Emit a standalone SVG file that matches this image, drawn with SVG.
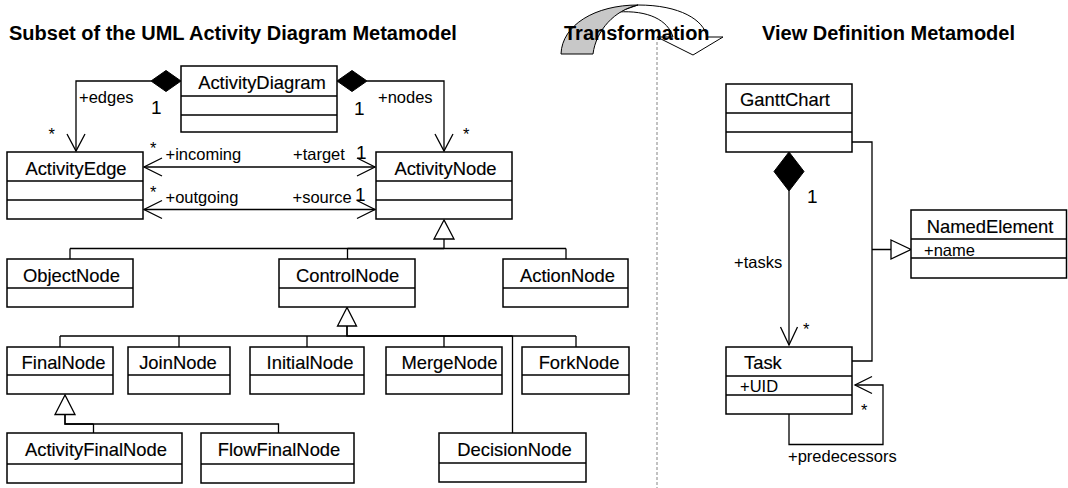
<svg xmlns="http://www.w3.org/2000/svg" width="1068" height="488" viewBox="0 0 1068 488">
  <style>
    .box { fill: #fff; stroke: #000; stroke-width: 1.5; }
    .div { stroke: #000; stroke-width: 1.5; }
    .name { font-family: "Liberation Sans", Arial, sans-serif; font-size: 18.4px; fill: #000; stroke: #000; stroke-width: 0.15; text-anchor: middle; }
    .name.left { text-anchor: start; }
    .attr { font-family: "Liberation Sans", Arial, sans-serif; font-size: 16.5px; fill: #000; }
    .lbl { font-family: "Liberation Sans", Arial, sans-serif; font-size: 16.5px; fill: #000; }
    .mult { font-family: "Liberation Sans", Arial, sans-serif; font-size: 19px; fill: #000; }
    .title { font-family: "Liberation Sans", Arial, sans-serif; font-size: 20px; font-weight: bold; fill: #000; }
    .ln { fill: none; stroke: #000; stroke-width: 1.3; }
    .open { fill: none; stroke: #000; stroke-width: 1.3; }
    .tri { fill: #fff; stroke: #000; stroke-width: 1.3; }
    .dia { fill: #000; stroke: #000; stroke-width: 1; }
  </style>

  <!-- separator between the two metamodels -->
  <path d="M657,37 V488" fill="none" stroke="#9a9a9a" stroke-width="1.2" stroke-dasharray="3,2"/>

  <!-- transformation arrow -->
  <g id="transformation-arrow">
    <path d="M638,5 C680,5 704,20 707,37 L723,37 L693,55 L657,37 L673,37 C668,20 648,10 618,12 Z" fill="#fff" stroke="#000" stroke-width="1"/>
    <path d="M561,54 C562,25 595,5 638,5 C615,10 596,30 593,54 Z" fill="#c8c8c8" stroke="#000" stroke-width="1"/>
  </g>

  <!-- headings -->
  <text class="title" x="9" y="40">Subset of the UML Activity Diagram Metamodel</text>
  <text class="title" x="564" y="40">Transformation</text>
  <text class="title" x="762" y="40">View Definition Metamodel</text>

  <!-- connectors -->
  <g id="connectors">
    <!-- ActivityDiagram compositions -->
    <polygon class="dia" points="151,81 166,70.5 181,81 166,91.5"/>
    <path class="ln" d="M151,81 H76 V151"/>
    <polyline class="open" points="67,134 76,151 85,134"/>
    <polygon class="dia" points="337,81 352,70.5 367,81 352,91.5"/>
    <path class="ln" d="M367,81 H444 V151"/>
    <polyline class="open" points="435,134 444,151 453,134"/>

    <!-- edge/node associations -->
    <path class="ln" d="M144,167 H375"/>
    <polyline class="open" points="162,158 144,167 162,176"/>
    <polyline class="open" points="357,158 375,167 357,176"/>
    <path class="ln" d="M144,209.5 H375"/>
    <polyline class="open" points="162,200.5 144,209.5 162,218.5"/>
    <polyline class="open" points="357,200.5 375,209.5 357,218.5"/>

    <!-- ActivityNode specializations -->
    <path class="ln" d="M444,239 V248.5 M70,248.5 H566 M70,248.5 V259 M347.5,248.5 V259 M566,248.5 V259"/>
    <path class="ln" d="M347.5,248.5 H444" stroke-width="2"/>
    <polygon class="tri" points="444,220 434,239 454,239"/>

    <!-- ControlNode specializations -->
    <path class="ln" d="M347,326 V336 M60,336 H576 M60,336 V347 M179,336 V347 M307,336 V347 M444,336 V347 M576,336 V347 M512.5,336 V433"/>
    <path class="ln" d="M347,326 V336 H512.5" stroke-width="2"/>
    <polygon class="tri" points="347,307.5 337.5,326 356.5,326"/>

    <!-- FinalNode specializations -->
    <path class="ln" d="M65,414.5 V424 H278.5 V433 M93.5,424 V433"/>
    <path class="ln" d="M65,414.5 V424 H93.5" stroke-width="2"/>
    <polygon class="tri" points="65,395 55,414.5 75,414.5"/>

    <!-- GanttChart tasks -->
    <polygon class="dia" points="789,152 804,171.5 789,191 774,171.5"/>
    <path class="ln" d="M789,191 V345"/>
    <polyline class="open" points="780.5,327 789,345 797.5,327"/>

    <!-- NamedElement specializations -->
    <path class="ln" d="M852,142 H872 V361 H852 M872,249.5 H891"/>
    <polygon class="tri" points="891,240 911,249.5 891,259"/>

    <!-- Task predecessors -->
    <path class="ln" d="M789,414 V444.5 H883 V385 H855"/>
    <polyline class="open" points="872,376.5 855,385 872,393.5"/>
  </g>

  <!-- connector labels -->
  <g id="labels">
    <text class="lbl" x="79" y="103">+edges</text>
    <text class="mult" x="151" y="114">1</text>
    <text class="lbl" x="48.5" y="139.5">*</text>
    <text class="lbl" x="378" y="103">+nodes</text>
    <text class="mult" x="354" y="115">1</text>
    <text class="lbl" x="463" y="139.5">*</text>
    <text class="lbl" x="150" y="153.5">*</text>
    <text class="lbl" x="165.5" y="160">+incoming</text>
    <text class="lbl" x="293" y="160">+target</text>
    <text class="mult" x="356" y="159">1</text>
    <text class="lbl" x="150" y="197.5">*</text>
    <text class="lbl" x="165.5" y="203">+outgoing</text>
    <text class="lbl" x="292.5" y="203">+source</text>
    <text class="mult" x="355" y="201">1</text>
    <text class="mult" x="807" y="203">1</text>
    <text class="lbl" x="734" y="267.5">+tasks</text>
    <text class="lbl" x="803" y="334.5">*</text>
    <text class="lbl" x="861" y="416">*</text>
    <text class="lbl" x="788" y="461.5">+predecessors</text>
  </g>

  <!-- classes -->
  <g id="ActivityDiagram">
    <rect class="box" x="181" y="66" width="156" height="66"/>
    <path class="div" d="M181,96 H337 M181,115 H337"/>
    <text class="name" x="262" y="89">ActivityDiagram</text>
  </g>
  <g id="ActivityEdge">
    <rect class="box" x="7" y="152" width="136" height="67"/>
    <path class="div" d="M7,181 H143 M7,200 H143"/>
    <text class="name" x="76" y="175">ActivityEdge</text>
  </g>
  <g id="ActivityNode">
    <rect class="box" x="376" y="152" width="136" height="67"/>
    <path class="div" d="M376,181 H512 M376,200 H512"/>
    <text class="name" x="445.5" y="174.5">ActivityNode</text>
  </g>
  <g id="ObjectNode">
    <rect class="box" x="7" y="259" width="126" height="48"/>
    <path class="div" d="M7,288 H133"/>
    <text class="name" x="71.5" y="281.5">ObjectNode</text>
  </g>
  <g id="ControlNode">
    <rect class="box" x="279" y="259" width="136" height="48"/>
    <path class="div" d="M279,288 H415"/>
    <text class="name" x="347.5" y="281.5">ControlNode</text>
  </g>
  <g id="ActionNode">
    <rect class="box" x="503" y="259" width="125" height="48"/>
    <path class="div" d="M503,288 H628"/>
    <text class="name" x="567.5" y="281.5">ActionNode</text>
  </g>
  <g id="FinalNode">
    <rect class="box" x="7" y="347" width="106" height="47"/>
    <path class="div" d="M7,375 H113"/>
    <text class="name" x="63.5" y="368.5">FinalNode</text>
  </g>
  <g id="JoinNode">
    <rect class="box" x="128" y="347" width="102" height="47"/>
    <path class="div" d="M128,375 H230"/>
    <text class="name" x="178" y="368.5">JoinNode</text>
  </g>
  <g id="InitialNode">
    <rect class="box" x="250" y="347" width="114" height="47"/>
    <path class="div" d="M250,375 H364"/>
    <text class="name" x="310" y="368.5">InitialNode</text>
  </g>
  <g id="MergeNode">
    <rect class="box" x="386" y="347" width="116" height="47"/>
    <path class="div" d="M386,375 H502"/>
    <text class="name" x="449.5" y="368.5">MergeNode</text>
  </g>
  <g id="ForkNode">
    <rect class="box" x="522" y="347" width="107" height="47"/>
    <path class="div" d="M522,375 H629"/>
    <text class="name" x="579" y="368.5">ForkNode</text>
  </g>
  <g id="DecisionNode">
    <rect class="box" x="439" y="433" width="147" height="49"/>
    <path class="div" d="M439,463 H586"/>
    <text class="name" x="514.5" y="456">DecisionNode</text>
  </g>
  <g id="ActivityFinalNode">
    <rect class="box" x="7" y="433" width="175" height="50"/>
    <path class="div" d="M7,464 H182"/>
    <text class="name" x="96" y="456">ActivityFinalNode</text>
  </g>
  <g id="FlowFinalNode">
    <rect class="box" x="201" y="433" width="153" height="50"/>
    <path class="div" d="M201,464 H354"/>
    <text class="name" x="279" y="456">FlowFinalNode</text>
  </g>
  <g id="GanttChart">
    <rect class="box" x="726" y="84" width="126" height="68"/>
    <path class="div" d="M726,113 H852 M726,132 H852"/>
    <text class="name" x="785" y="106">GanttChart</text>
  </g>
  <g id="Task">
    <rect class="box" x="726" y="347" width="126" height="67"/>
    <path class="div" d="M726,376 H852 M726,395 H852"/>
    <text class="name left" x="744" y="368.5">Task</text>
    <text class="attr" x="740" y="392">+UID</text>
  </g>
  <g id="NamedElement">
    <rect class="box" x="911" y="210" width="155.5" height="68"/>
    <path class="div" d="M911,239 H1066.5 M911,258 H1066.5"/>
    <text class="name" x="990" y="233">NamedElement</text>
    <text class="attr" x="924" y="256">+name</text>
  </g>
</svg>
